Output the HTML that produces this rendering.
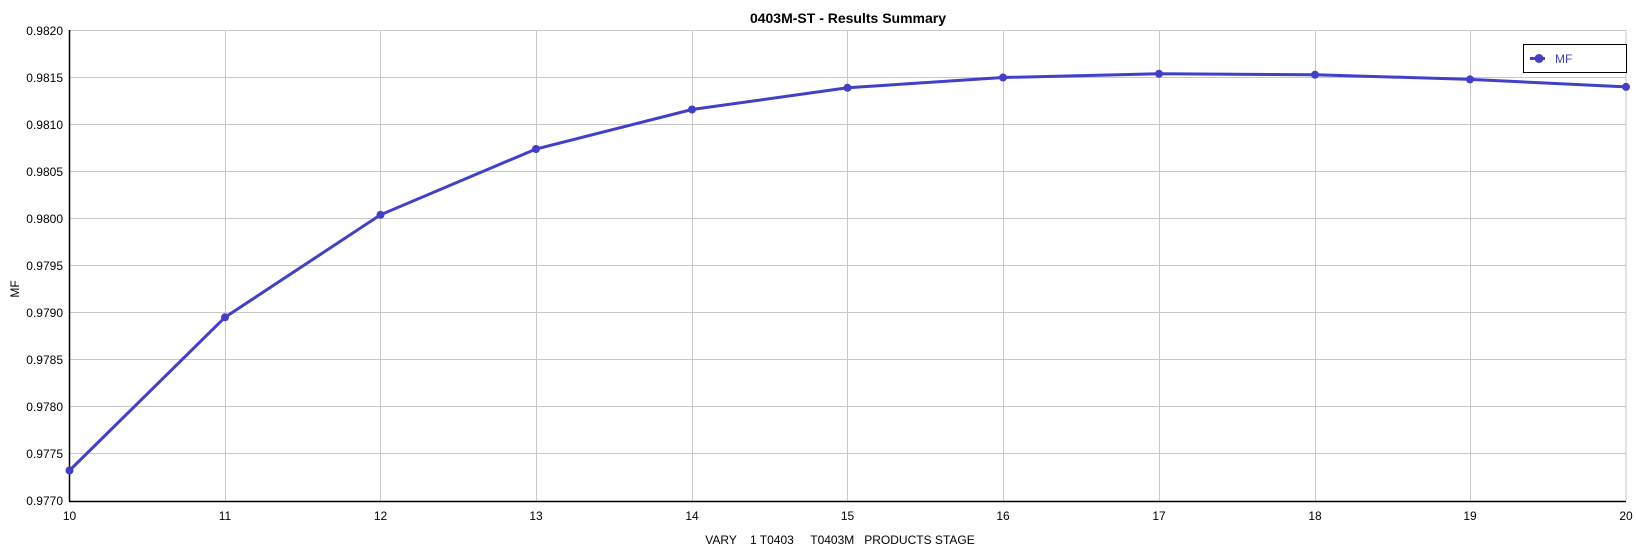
<!DOCTYPE html>
<html><head><style>body{margin:0;background:#fff}svg{display:block;font-family:"Liberation Sans",sans-serif}</style></head><body>
<svg width="1636" height="551" xmlns="http://www.w3.org/2000/svg">
<rect width="1636" height="551" fill="#fff"/>
<text x="848" y="23" font-size="14" font-weight="bold" text-anchor="middle" fill="#000">0403M-ST - Results Summary</text>
<g stroke="#c8c8c8" stroke-width="1">
<line x1="69.5" y1="30.5" x2="1626" y2="30.5"/><line x1="69.5" y1="77.5" x2="1626" y2="77.5"/><line x1="69.5" y1="124.5" x2="1626" y2="124.5"/><line x1="69.5" y1="171.5" x2="1626" y2="171.5"/><line x1="69.5" y1="218.5" x2="1626" y2="218.5"/><line x1="69.5" y1="265.5" x2="1626" y2="265.5"/><line x1="69.5" y1="312.5" x2="1626" y2="312.5"/><line x1="69.5" y1="359.5" x2="1626" y2="359.5"/><line x1="69.5" y1="406.5" x2="1626" y2="406.5"/><line x1="69.5" y1="453.5" x2="1626" y2="453.5"/>
<line x1="225.5" y1="30" x2="225.5" y2="501"/><line x1="380.5" y1="30" x2="380.5" y2="501"/><line x1="536.5" y1="30" x2="536.5" y2="501"/><line x1="692.5" y1="30" x2="692.5" y2="501"/><line x1="847.5" y1="30" x2="847.5" y2="501"/><line x1="1003.5" y1="30" x2="1003.5" y2="501"/><line x1="1159.5" y1="30" x2="1159.5" y2="501"/><line x1="1315.5" y1="30" x2="1315.5" y2="501"/><line x1="1470.5" y1="30" x2="1470.5" y2="501"/><line x1="1626" y1="30" x2="1626" y2="501"/>
</g>
<g stroke="#000" stroke-width="1.5"><line x1="69.5" y1="30" x2="69.5" y2="501.5"/><line x1="69" y1="501.5" x2="1626" y2="501.5"/></g>
<g font-size="12" fill="#000" text-anchor="end">
<text x="63" y="35">0.9820</text><text x="63" y="82">0.9815</text><text x="63" y="129">0.9810</text><text x="63" y="176">0.9805</text><text x="63" y="223">0.9800</text><text x="63" y="270">0.9795</text><text x="63" y="317">0.9790</text><text x="63" y="364">0.9785</text><text x="63" y="411">0.9780</text><text x="63" y="458">0.9775</text><text x="63" y="505">0.9770</text>
</g>
<g font-size="12" fill="#000" text-anchor="middle">
<text x="69.5" y="520">10</text><text x="225" y="520">11</text><text x="380.5" y="520">12</text><text x="536" y="520">13</text><text x="692" y="520">14</text><text x="847.5" y="520">15</text><text x="1003" y="520">16</text><text x="1159" y="520">17</text><text x="1315" y="520">18</text><text x="1470" y="520">19</text><text x="1626" y="520">20</text>
</g>
<text x="840" y="544" font-size="12" text-anchor="middle" fill="#000" xml:space="preserve">VARY    1 T0403     T0403M   PRODUCTS STAGE</text>
<text transform="translate(19,289) rotate(-90)" font-size="12" text-anchor="middle" fill="#000">MF</text>
<polyline fill="none" stroke="#4040c8" stroke-width="3" points="69.5,470.5 225,317.3 380.5,214.8 536,149 692,109.5 847.5,87.8 1003,77.5 1159,73.8 1315,74.7 1470,79.4 1626,86.9"/>
<g fill="#4040c8"><circle cx="69.5" cy="470.5" r="4"/><circle cx="225" cy="317.3" r="4"/><circle cx="380.5" cy="214.8" r="4"/><circle cx="536" cy="149" r="4"/><circle cx="692" cy="109.5" r="4"/><circle cx="847.5" cy="87.8" r="4"/><circle cx="1003" cy="77.5" r="4"/><circle cx="1159" cy="73.8" r="4"/><circle cx="1315" cy="74.7" r="4"/><circle cx="1470" cy="79.4" r="4"/><circle cx="1626" cy="86.9" r="4"/></g>
<rect x="1523.5" y="44.5" width="103" height="28" fill="#fff" stroke="#000" stroke-width="1"/>
<line x1="1530" y1="58.5" x2="1545" y2="58.5" stroke="#4040c8" stroke-width="3"/>
<circle cx="1539" cy="58.5" r="4.5" fill="#4040c8"/>
<text x="1555" y="63" font-size="12" fill="#4040c8">MF</text>
</svg>
</body></html>
